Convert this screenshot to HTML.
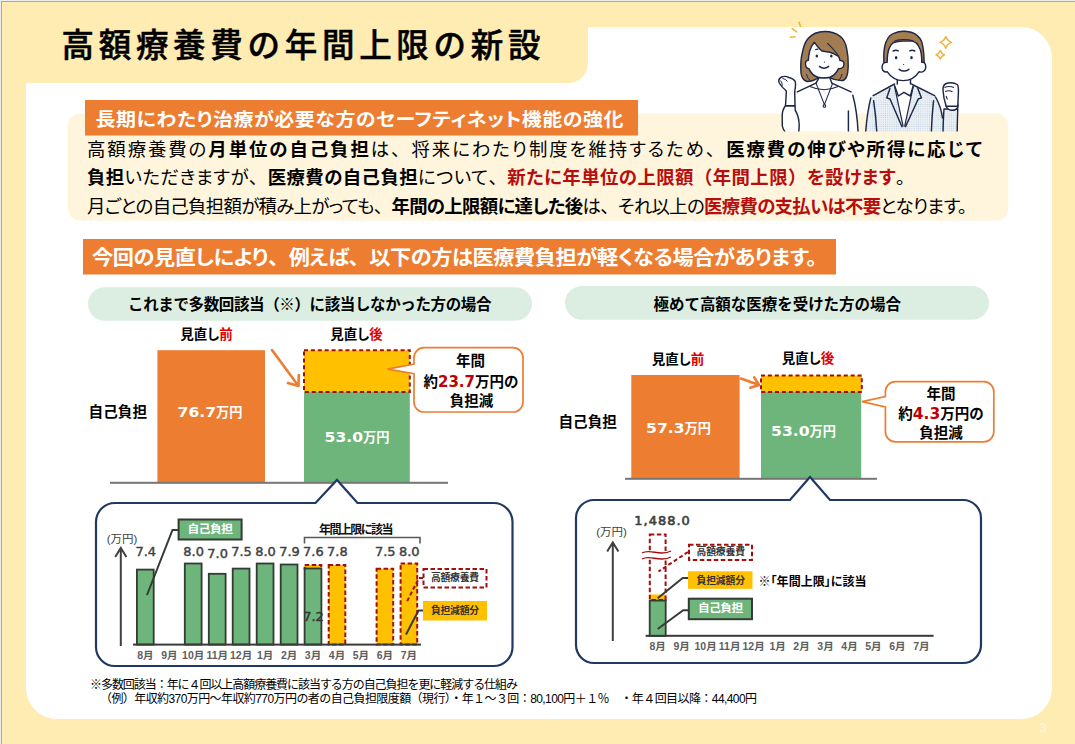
<!DOCTYPE html>
<html lang="ja"><head><meta charset="utf-8"><title>高額療養費の年間上限の新設</title>
<style>
*{margin:0;padding:0;box-sizing:border-box}
html,body{width:1075px;height:744px;overflow:hidden;background:#FFECB3}
svg{position:absolute;left:0;top:0;display:block}
.p{font-feature-settings:"palt"}
.n{font-feature-settings:normal}
</style></head><body>
<svg width="1075" height="744" viewBox="0 0 1075 744">
<rect x="0" y="0" width="1075" height="744" fill="#FFECB3"/>
<rect x="0" y="0" width="1075" height="1" fill="#EDEDED"/><rect x="0" y="1" width="1075" height="1" fill="#A9A9A9"/>
<rect x="0" y="0" width="1" height="744" fill="#EDEDED"/><rect x="1" y="1" width="1" height="743" fill="#A9A9A9"/>
<rect x="26" y="27" width="1026" height="692" rx="31" fill="#FFFFFF"/>
<path d="M2 2 H588 V63 A20 20 0 0 1 568 83 H2 Z" fill="#FFECB3"/>
<text x="61.5" y="57" font-size="32.5" font-weight="500" fill="#000" text-anchor="start" font-family="'Liberation Sans','Noto Sans CJK JP',sans-serif" textLength="479" lengthAdjust="spacing" stroke="#000" stroke-width="0.5">高額療養費の年間上限の新設</text>
<rect x="67.8" y="113.5" width="940.5" height="107" rx="12" fill="#FFF5DC"/>
<rect x="85" y="100" width="553" height="35.5" fill="#ED7D31"/>
<text transform="translate(95.5 125.7) scale(1.08 1)" x="0" y="0" font-size="18.5" font-weight="700" fill="#fff" text-anchor="start" font-family="'Liberation Sans','Noto Sans CJK JP',sans-serif" textLength="488.89" lengthAdjust="spacing" class="p">長期にわたり治療が必要な方のセーフティネット機能の強化</text>
<text x="87" y="156.3" font-size="18.4" font-weight="400" fill="#000" text-anchor="start" font-family="'Liberation Sans','Noto Sans CJK JP',sans-serif" textLength="895" lengthAdjust="spacing" class="p">高額療養費の<tspan font-weight="700">月単位の自己負担</tspan>は<tspan class="n">、</tspan>将来にわたり制度を維持するため<tspan class="n">、</tspan><tspan font-weight="700">医療費の伸びや所得に応じて</tspan></text>
<text x="87" y="184.2" font-size="18.4" font-weight="400" fill="#000" text-anchor="start" font-family="'Liberation Sans','Noto Sans CJK JP',sans-serif" textLength="818" lengthAdjust="spacing" class="p"><tspan font-weight="700">負担</tspan>いただきますが<tspan class="n">、</tspan><tspan font-weight="700">医療費の自己負担</tspan>について<tspan class="n">、</tspan><tspan fill="#B80D0D" font-weight="700">新たに年単位の上限額<tspan class="n">（</tspan>年間上限<tspan class="n">）</tspan>を設けます</tspan>。</text>
<text x="87" y="212.9" font-size="18.4" font-weight="400" fill="#000" text-anchor="start" font-family="'Liberation Sans','Noto Sans CJK JP',sans-serif" textLength="880" lengthAdjust="spacing" class="p">月ごとの自己負担額が積み上がっても<tspan class="n">、</tspan><tspan font-weight="700">年間の上限額に達した後</tspan>は<tspan class="n">、</tspan>それ以上の<tspan fill="#B80D0D" font-weight="700">医療費の支払いは不要</tspan>となります。</text>
<rect x="83" y="239" width="753" height="35.5" fill="#ED7D31"/>
<text transform="translate(92 265) scale(1.06 1)" x="0" y="0" font-size="20" font-weight="700" fill="#fff" text-anchor="start" font-family="'Liberation Sans','Noto Sans CJK JP',sans-serif" textLength="683.96" lengthAdjust="spacing" class="p">今回の見直しにより<tspan class="n">、</tspan>例えば<tspan class="n">、</tspan>以下の方は医療費負担が軽くなる場合があります。</text>
<rect x="88" y="287.2" width="444" height="33.6" rx="16.8" fill="#DCEEE2"/>
<rect x="565" y="286.1" width="424" height="33.6" rx="16.8" fill="#DCEEE2"/>
<text x="128" y="309.5" font-size="15.5" font-weight="700" fill="#000" text-anchor="start" font-family="'Liberation Sans','Noto Sans CJK JP',sans-serif" textLength="363.5" lengthAdjust="spacing" >これまで多数回該当（※）に該当しなかった方の場合</text>
<text x="653.5" y="309.5" font-size="15.5" font-weight="700" fill="#000" text-anchor="start" font-family="'Liberation Sans','Noto Sans CJK JP',sans-serif" textLength="247.5" lengthAdjust="spacing" >極めて高額な医療を受けた方の場合</text>
<text x="206.5" y="339" font-size="13.5" font-weight="700" fill="#000" text-anchor="middle" font-family="'Liberation Sans','Noto Sans CJK JP',sans-serif" class="p">見直し<tspan fill="#E00000">前</tspan></text>
<text x="356.5" y="339" font-size="13.5" font-weight="700" fill="#000" text-anchor="middle" font-family="'Liberation Sans','Noto Sans CJK JP',sans-serif" class="p">見直し<tspan fill="#E00000">後</tspan></text>
<text x="117.8" y="417.2" font-size="14.6" font-weight="700" fill="#000" text-anchor="middle" font-family="'Liberation Sans','Noto Sans CJK JP',sans-serif" >自己負担</text>
<rect x="157.4" y="350.2" width="107.6" height="132.3" fill="#ED7D31"/>
<rect x="304" y="392" width="105.8" height="90.5" fill="#6DB57B"/>
<rect x="304" y="350.3" width="105.8" height="41.7" fill="#FFC000" stroke="#A30F0F" stroke-width="2" stroke-dasharray="4 2.9"/>
<rect x="110" y="481.8" width="338" height="2" fill="#767676"/>
<text x="210" y="417" font-size="14.8" font-weight="700" fill="#fff" text-anchor="middle" font-family="'Liberation Sans','Noto Sans CJK JP',sans-serif" ><tspan font-family="DejaVu Sans" textLength="38.5" lengthAdjust="spacingAndGlyphs">76.7</tspan><tspan font-size="13.2">万円</tspan></text>
<text x="357" y="441.8" font-size="14.8" font-weight="700" fill="#fff" text-anchor="middle" font-family="'Liberation Sans','Noto Sans CJK JP',sans-serif" ><tspan font-family="DejaVu Sans" textLength="38.5" lengthAdjust="spacingAndGlyphs">53.0</tspan><tspan font-size="13.2">万円</tspan></text>
<path d="M272.0 350.0 L298.5 386.0 M298.8 375.0 L298.5 386.0 L287.9 383.0" stroke="#ED7D31" stroke-width="2.6" fill="none" stroke-linecap="round" stroke-linejoin="round"/>
<path d="M424 347.6 H513 A10 10 0 0 1 523 357.6 V402 A10 10 0 0 1 513 412 H424 A10 10 0 0 1 414 402 V373.6 L387.6 369.1 L414 364 V357.6 A10 10 0 0 1 424 347.6 Z" fill="#fff" stroke="#ED7D31" stroke-width="1.7"/>
<text x="470.5" y="366" font-size="14.5" font-weight="700" fill="#000" text-anchor="middle" font-family="'Liberation Sans','Noto Sans CJK JP',sans-serif" >年間</text>
<text x="471" y="387.2" font-size="14.5" font-weight="700" fill="#000" text-anchor="middle" font-family="'Liberation Sans','Noto Sans CJK JP',sans-serif" >約<tspan font-family="DejaVu Sans" font-size="15" fill="#C00000">23.7</tspan>万円の</text>
<text x="471.5" y="405.5" font-size="14.5" font-weight="700" fill="#000" text-anchor="middle" font-family="'Liberation Sans','Noto Sans CJK JP',sans-serif" >負担減</text>
<text x="678" y="364.3" font-size="13.5" font-weight="700" fill="#000" text-anchor="middle" font-family="'Liberation Sans','Noto Sans CJK JP',sans-serif" class="p">見直し<tspan fill="#E00000">前</tspan></text>
<text x="808" y="363" font-size="13.5" font-weight="700" fill="#000" text-anchor="middle" font-family="'Liberation Sans','Noto Sans CJK JP',sans-serif" class="p">見直し<tspan fill="#E00000">後</tspan></text>
<text x="587.7" y="426.9" font-size="14.6" font-weight="700" fill="#000" text-anchor="middle" font-family="'Liberation Sans','Noto Sans CJK JP',sans-serif" >自己負担</text>
<rect x="631.3" y="375" width="108.3" height="103.6" fill="#ED7D31"/>
<rect x="761" y="392" width="100.2" height="86.6" fill="#6DB57B"/>
<rect x="761" y="375.5" width="100.8" height="16.5" fill="#FFC000" stroke="#A30F0F" stroke-width="2" stroke-dasharray="4 2.9"/>
<rect x="625" y="477.8" width="252" height="2" fill="#767676"/>
<text x="678.5" y="433" font-size="14.8" font-weight="700" fill="#fff" text-anchor="middle" font-family="'Liberation Sans','Noto Sans CJK JP',sans-serif" ><tspan font-family="DejaVu Sans" textLength="38.5" lengthAdjust="spacingAndGlyphs">57.3</tspan><tspan font-size="13.2">万円</tspan></text>
<text x="803.5" y="435.5" font-size="14.8" font-weight="700" fill="#fff" text-anchor="middle" font-family="'Liberation Sans','Noto Sans CJK JP',sans-serif" ><tspan font-family="DejaVu Sans" textLength="38.5" lengthAdjust="spacingAndGlyphs">53.0</tspan><tspan font-size="13.2">万円</tspan></text>
<path d="M741.0 378.5 L759.0 385.0 M754.2 377.4 L759.0 385.0 L750.4 387.8" stroke="#ED7D31" stroke-width="2.6" fill="none" stroke-linecap="round" stroke-linejoin="round"/>
<path d="M895.4 381.6 H983.8 A10 10 0 0 1 993.8 391.6 V431.8 A10 10 0 0 1 983.8 441.8 H895.4 A10 10 0 0 1 885.4 431.8 V407 L862 401.7 L885.4 396.5 V391.6 A10 10 0 0 1 895.4 381.6 Z" fill="#fff" stroke="#ED7D31" stroke-width="1.7"/>
<text x="941" y="399" font-size="14.5" font-weight="700" fill="#000" text-anchor="middle" font-family="'Liberation Sans','Noto Sans CJK JP',sans-serif" >年間</text>
<text x="941" y="419.3" font-size="14.5" font-weight="700" fill="#000" text-anchor="middle" font-family="'Liberation Sans','Noto Sans CJK JP',sans-serif" >約<tspan font-family="DejaVu Sans" font-size="15.5" fill="#C00000">4.3</tspan>万円の</text>
<text x="941" y="437.5" font-size="14.5" font-weight="700" fill="#000" text-anchor="middle" font-family="'Liberation Sans','Noto Sans CJK JP',sans-serif" >負担減</text>
<path d="M115 503 H315.5 L337 480 L357.5 503 H493.5 A19 19 0 0 1 512.5 522 V647 A19 19 0 0 1 493.5 666 H115 A19 19 0 0 1 96 647 V522 A19 19 0 0 1 115 503 Z" fill="#fff" stroke="#1F3864" stroke-width="2.2" stroke-linejoin="miter"/>
<path d="M594 500 H790 L810 477 L830 500 H963 A18 18 0 0 1 981 518 V645 A18 18 0 0 1 963 663 H594 A18 18 0 0 1 576 645 V518 A18 18 0 0 1 594 500 Z" fill="#fff" stroke="#1F3864" stroke-width="2.2" stroke-linejoin="miter"/>
<path d="M120.8 646 V548 M115.2 557 L120.8 548 L126.39999999999999 557" stroke="#404040" stroke-width="2" fill="none" stroke-linejoin="miter"/>
<text x="122" y="542.6" font-size="11.5" font-weight="400" fill="#404040" text-anchor="middle" font-family="'Liberation Sans','Noto Sans CJK JP',sans-serif" class="p">(万円)</text>
<rect x="136.9" y="569.6" width="16.8" height="75.0" fill="#6DB57B" stroke="#333B35" stroke-width="1.8"/>
<rect x="184.8" y="563.5" width="16.8" height="81.1" fill="#6DB57B" stroke="#333B35" stroke-width="1.8"/>
<rect x="208.8" y="573.8" width="16.8" height="70.8" fill="#6DB57B" stroke="#333B35" stroke-width="1.8"/>
<rect x="232.7" y="568.6" width="16.8" height="76.0" fill="#6DB57B" stroke="#333B35" stroke-width="1.8"/>
<rect x="256.7" y="563.5" width="16.8" height="81.1" fill="#6DB57B" stroke="#333B35" stroke-width="1.8"/>
<rect x="280.7" y="564.5" width="16.8" height="80.1" fill="#6DB57B" stroke="#333B35" stroke-width="1.8"/>
<rect x="376.6" y="568.7" width="16.6" height="75.9" fill="#FFC000" stroke="#A30F0F" stroke-width="2" stroke-dasharray="4.5 2.5"/>
<rect x="400.6" y="563.6" width="16.6" height="81.0" fill="#FFC000" stroke="#A30F0F" stroke-width="2" stroke-dasharray="4.5 2.5"/>
<rect x="304.7" y="565" width="16.6" height="4" fill="#FFC000" stroke="#A30F0F" stroke-width="2" stroke-dasharray="4.5 2.5"/>
<rect x="304.6" y="568.5" width="16.8" height="76.1" fill="#6DB57B" stroke="#333B35" stroke-width="1.8"/>
<rect x="328.7" y="565" width="16.6" height="79.6" fill="#FFC000" stroke="#A30F0F" stroke-width="2" stroke-dasharray="4.5 2.5"/>
<rect x="133" y="643.6" width="288" height="2" fill="#3A3A3A"/>
<text x="145.7" y="555.6" font-size="12.1" font-weight="400" fill="#404040" text-anchor="middle" font-family="'DejaVu Sans','Noto Sans CJK JP',sans-serif" textLength="20.6" lengthAdjust="spacingAndGlyphs" stroke="#404040" stroke-width="0.4">7.4</text>
<text x="193.6" y="555.5" font-size="12.1" font-weight="400" fill="#404040" text-anchor="middle" font-family="'DejaVu Sans','Noto Sans CJK JP',sans-serif" textLength="20.6" lengthAdjust="spacingAndGlyphs" stroke="#404040" stroke-width="0.4">8.0</text>
<text x="217.6" y="558.2" font-size="12.1" font-weight="400" fill="#404040" text-anchor="middle" font-family="'DejaVu Sans','Noto Sans CJK JP',sans-serif" textLength="20.6" lengthAdjust="spacingAndGlyphs" stroke="#404040" stroke-width="0.4">7.0</text>
<text x="241.5" y="555.5" font-size="12.1" font-weight="400" fill="#404040" text-anchor="middle" font-family="'DejaVu Sans','Noto Sans CJK JP',sans-serif" textLength="20.6" lengthAdjust="spacingAndGlyphs" stroke="#404040" stroke-width="0.4">7.5</text>
<text x="265.5" y="555.5" font-size="12.1" font-weight="400" fill="#404040" text-anchor="middle" font-family="'DejaVu Sans','Noto Sans CJK JP',sans-serif" textLength="20.6" lengthAdjust="spacingAndGlyphs" stroke="#404040" stroke-width="0.4">8.0</text>
<text x="289.5" y="555.5" font-size="12.1" font-weight="400" fill="#404040" text-anchor="middle" font-family="'DejaVu Sans','Noto Sans CJK JP',sans-serif" textLength="20.6" lengthAdjust="spacingAndGlyphs" stroke="#404040" stroke-width="0.4">7.9</text>
<text x="313.4" y="555.6" font-size="12.1" font-weight="400" fill="#404040" text-anchor="middle" font-family="'DejaVu Sans','Noto Sans CJK JP',sans-serif" textLength="20.6" lengthAdjust="spacingAndGlyphs" stroke="#404040" stroke-width="0.4">7.6</text>
<text x="337.4" y="555.6" font-size="12.1" font-weight="400" fill="#404040" text-anchor="middle" font-family="'DejaVu Sans','Noto Sans CJK JP',sans-serif" textLength="20.6" lengthAdjust="spacingAndGlyphs" stroke="#404040" stroke-width="0.4">7.8</text>
<text x="385.3" y="555.6" font-size="12.1" font-weight="400" fill="#404040" text-anchor="middle" font-family="'DejaVu Sans','Noto Sans CJK JP',sans-serif" textLength="20.6" lengthAdjust="spacingAndGlyphs" stroke="#404040" stroke-width="0.4">7.5</text>
<text x="409.3" y="555.6" font-size="12.1" font-weight="400" fill="#404040" text-anchor="middle" font-family="'DejaVu Sans','Noto Sans CJK JP',sans-serif" textLength="20.6" lengthAdjust="spacingAndGlyphs" stroke="#404040" stroke-width="0.4">8.0</text>
<text x="313.5" y="620.5" font-size="12.1" font-weight="400" fill="#333" text-anchor="middle" font-family="'DejaVu Sans','Noto Sans CJK JP',sans-serif" textLength="20.6" lengthAdjust="spacingAndGlyphs" stroke="#333" stroke-width="0.4">7.2</text>
<text x="145.3" y="659.2" font-size="10.5" font-weight="700" fill="#5E5E5E" text-anchor="middle" font-family="'Liberation Sans','Noto Sans CJK JP',sans-serif" class="p">8月</text>
<text x="169.3" y="659.2" font-size="10.5" font-weight="700" fill="#5E5E5E" text-anchor="middle" font-family="'Liberation Sans','Noto Sans CJK JP',sans-serif" class="p">9月</text>
<text x="193.2" y="659.2" font-size="10.5" font-weight="700" fill="#5E5E5E" text-anchor="middle" font-family="'Liberation Sans','Noto Sans CJK JP',sans-serif" class="p">10月</text>
<text x="217.2" y="659.2" font-size="10.5" font-weight="700" fill="#5E5E5E" text-anchor="middle" font-family="'Liberation Sans','Noto Sans CJK JP',sans-serif" class="p">11月</text>
<text x="241.1" y="659.2" font-size="10.5" font-weight="700" fill="#5E5E5E" text-anchor="middle" font-family="'Liberation Sans','Noto Sans CJK JP',sans-serif" class="p">12月</text>
<text x="265.1" y="659.2" font-size="10.5" font-weight="700" fill="#5E5E5E" text-anchor="middle" font-family="'Liberation Sans','Noto Sans CJK JP',sans-serif" class="p">1月</text>
<text x="289.1" y="659.2" font-size="10.5" font-weight="700" fill="#5E5E5E" text-anchor="middle" font-family="'Liberation Sans','Noto Sans CJK JP',sans-serif" class="p">2月</text>
<text x="313.0" y="659.2" font-size="10.5" font-weight="700" fill="#5E5E5E" text-anchor="middle" font-family="'Liberation Sans','Noto Sans CJK JP',sans-serif" class="p">3月</text>
<text x="337.0" y="659.2" font-size="10.5" font-weight="700" fill="#5E5E5E" text-anchor="middle" font-family="'Liberation Sans','Noto Sans CJK JP',sans-serif" class="p">4月</text>
<text x="360.9" y="659.2" font-size="10.5" font-weight="700" fill="#5E5E5E" text-anchor="middle" font-family="'Liberation Sans','Noto Sans CJK JP',sans-serif" class="p">5月</text>
<text x="384.9" y="659.2" font-size="10.5" font-weight="700" fill="#5E5E5E" text-anchor="middle" font-family="'Liberation Sans','Noto Sans CJK JP',sans-serif" class="p">6月</text>
<text x="408.9" y="659.2" font-size="10.5" font-weight="700" fill="#5E5E5E" text-anchor="middle" font-family="'Liberation Sans','Noto Sans CJK JP',sans-serif" class="p">7月</text>
<rect x="178.6" y="519.5" width="63" height="20" fill="#6DB57B" stroke="#333B35" stroke-width="2"/>
<text x="210.2" y="533.2" font-size="11.7" font-weight="700" fill="#fff" text-anchor="middle" font-family="'Liberation Sans','Noto Sans CJK JP',sans-serif" textLength="45.5" lengthAdjust="spacing" >自己負担</text>
<path d="M178 530 H172.5 L147 595" stroke="#333B35" stroke-width="2" fill="none"/>
<path d="M304.5 543.5 V537.5 H420 V543.5" stroke="#595959" stroke-width="1.6" fill="none"/>
<text x="319" y="533.6" font-size="12" font-weight="700" fill="#111" text-anchor="start" font-family="'Liberation Sans','Noto Sans CJK JP',sans-serif" textLength="74.5" lengthAdjust="spacing" >年間上限に該当</text>
<rect x="423.5" y="569" width="63" height="18.5" fill="#fff" stroke="#A30F0F" stroke-width="2" stroke-dasharray="4.5 2.5"/>
<text x="455" y="581.3" font-size="9.8" font-weight="700" fill="#333" text-anchor="middle" font-family="'Liberation Sans','Noto Sans CJK JP',sans-serif" textLength="48" lengthAdjust="spacing" >高額療養費</text>
<rect x="423" y="601" width="64" height="19.5" fill="#FFC000"/>
<text x="455" y="614.2" font-size="9.8" font-weight="700" fill="#333" text-anchor="middle" font-family="'Liberation Sans','Noto Sans CJK JP',sans-serif" textLength="48" lengthAdjust="spacing" >負担減額分</text>
<path d="M423 578 H419 L407 601.5" stroke="#A30F0F" stroke-width="2" fill="none" stroke-dasharray="4 2.5"/>
<path d="M423 610.5 H418.5 L406 634.5" stroke="#3A3A3A" stroke-width="2" fill="none"/>
<path d="M612.8 641 V542.5 M607.1999999999999 551.5 L612.8 542.5 L618.4 551.5" stroke="#404040" stroke-width="2" fill="none" stroke-linejoin="miter"/>
<text x="611.6" y="535.8" font-size="11.5" font-weight="400" fill="#404040" text-anchor="middle" font-family="'Liberation Sans','Noto Sans CJK JP',sans-serif" class="p">(万円)</text>
<text x="634.3" y="525.2" font-size="12.9" font-weight="400" fill="#404040" text-anchor="start" font-family="'DejaVu Sans','Noto Sans CJK JP',sans-serif" textLength="55.5" lengthAdjust="spacing" stroke="#404040" stroke-width="0.65">1,488.0</text>
<rect x="649.8" y="594.5" width="15.8" height="5.5" fill="#FFC000"/>
<rect x="649.8" y="534.4" width="15.8" height="65.6" fill="none" stroke="#A30F0F" stroke-width="2" stroke-dasharray="4.5 2.5"/>
<rect x="649.6999999999999" y="600.6" width="16.0" height="35.4" fill="#6DB57B" stroke="#333B35" stroke-width="1.8"/>
<path d="M642 553 C650 548 660 557 671 551 V557 C660 563 650 554 642 559 Z" fill="#fff"/>
<path d="M642 553 C650 548 660 557 671 551 M642 559 C650 554 660 563 671 557" stroke="#A30F0F" stroke-width="1.4" fill="none"/>
<rect x="645.6" y="634.8" width="288" height="2" fill="#3A3A3A"/>
<text x="657.7" y="649.8" font-size="10.5" font-weight="700" fill="#5E5E5E" text-anchor="middle" font-family="'Liberation Sans','Noto Sans CJK JP',sans-serif" class="p">8月</text>
<text x="681.7" y="649.8" font-size="10.5" font-weight="700" fill="#5E5E5E" text-anchor="middle" font-family="'Liberation Sans','Noto Sans CJK JP',sans-serif" class="p">9月</text>
<text x="705.6" y="649.8" font-size="10.5" font-weight="700" fill="#5E5E5E" text-anchor="middle" font-family="'Liberation Sans','Noto Sans CJK JP',sans-serif" class="p">10月</text>
<text x="729.6" y="649.8" font-size="10.5" font-weight="700" fill="#5E5E5E" text-anchor="middle" font-family="'Liberation Sans','Noto Sans CJK JP',sans-serif" class="p">11月</text>
<text x="753.6" y="649.8" font-size="10.5" font-weight="700" fill="#5E5E5E" text-anchor="middle" font-family="'Liberation Sans','Noto Sans CJK JP',sans-serif" class="p">12月</text>
<text x="777.6" y="649.8" font-size="10.5" font-weight="700" fill="#5E5E5E" text-anchor="middle" font-family="'Liberation Sans','Noto Sans CJK JP',sans-serif" class="p">1月</text>
<text x="801.5" y="649.8" font-size="10.5" font-weight="700" fill="#5E5E5E" text-anchor="middle" font-family="'Liberation Sans','Noto Sans CJK JP',sans-serif" class="p">2月</text>
<text x="825.5" y="649.8" font-size="10.5" font-weight="700" fill="#5E5E5E" text-anchor="middle" font-family="'Liberation Sans','Noto Sans CJK JP',sans-serif" class="p">3月</text>
<text x="849.5" y="649.8" font-size="10.5" font-weight="700" fill="#5E5E5E" text-anchor="middle" font-family="'Liberation Sans','Noto Sans CJK JP',sans-serif" class="p">4月</text>
<text x="873.4" y="649.8" font-size="10.5" font-weight="700" fill="#5E5E5E" text-anchor="middle" font-family="'Liberation Sans','Noto Sans CJK JP',sans-serif" class="p">5月</text>
<text x="897.4" y="649.8" font-size="10.5" font-weight="700" fill="#5E5E5E" text-anchor="middle" font-family="'Liberation Sans','Noto Sans CJK JP',sans-serif" class="p">6月</text>
<text x="921.4" y="649.8" font-size="10.5" font-weight="700" fill="#5E5E5E" text-anchor="middle" font-family="'Liberation Sans','Noto Sans CJK JP',sans-serif" class="p">7月</text>
<rect x="689" y="544.7" width="63" height="15.3" fill="#fff" stroke="#A30F0F" stroke-width="2" stroke-dasharray="4.5 2.5"/>
<text x="720.7" y="555.3" font-size="9.8" font-weight="700" fill="#333" text-anchor="middle" font-family="'Liberation Sans','Noto Sans CJK JP',sans-serif" textLength="48.5" lengthAdjust="spacing" >高額療養費</text>
<rect x="688" y="571.3" width="64.5" height="17.5" fill="#FFC000"/>
<text x="720.7" y="584.2" font-size="9.8" font-weight="700" fill="#333" text-anchor="middle" font-family="'Liberation Sans','Noto Sans CJK JP',sans-serif" textLength="48.5" lengthAdjust="spacing" >負担減額分</text>
<rect x="688.8" y="598.7" width="63.2" height="20.5" fill="#6DB57B" stroke="#333B35" stroke-width="2"/>
<text x="720.6" y="612.3" font-size="11.7" font-weight="700" fill="#fff" text-anchor="middle" font-family="'Liberation Sans','Noto Sans CJK JP',sans-serif" textLength="45" lengthAdjust="spacing" >自己負担</text>
<text x="758.5" y="586.3" font-size="12" font-weight="700" fill="#000" text-anchor="start" font-family="'Liberation Sans','Noto Sans CJK JP',sans-serif" textLength="108" lengthAdjust="spacing" class="p"><tspan font-weight="400">※</tspan>「年間上限」に該当</text>
<path d="M688 552 L658.5 571.5" stroke="#A30F0F" stroke-width="2" fill="none" stroke-dasharray="4 2.5"/>
<path d="M688 578 H682.7 L657.7 598.2" stroke="#3A3A3A" stroke-width="2" fill="none"/>
<path d="M688 610.3 H683.2 L657.7 629" stroke="#3A3A3A" stroke-width="2" fill="none"/>
<clipPath id="ic"><rect x="770" y="15" width="200" height="116.6"/></clipPath>
<defs><pattern id="dots" width="2.2" height="2.2" patternUnits="userSpaceOnUse"><rect width="2.2" height="2.2" fill="#EAF0F5"/><circle cx="1.1" cy="1.1" r="0.5" fill="#BCCCDA"/></pattern></defs>
<g clip-path="url(#ic)">
<path d="M797.3 91.9 L816 83.1 L831.8 83.1 L851 91.9 C853 93 853 94 852.8 95.3 C855.5 105 857.5 118 858.2 134 L797 134 Z" fill="#fff"/>
<path d="M797.3 91.9 L816 83.1 M831.8 83.1 L851 91.9 M852.8 95.3 C855.5 105 857.5 118 858.2 134 M848.4 111 L848.4 134" fill="none" stroke="#1E2746" stroke-width="1.45" stroke-linejoin="round" stroke-linecap="round"/>
<path d="M818.7 76 L816 83.1 Q824 86 831.8 83.1 L830 76 Z" fill="#fff"/>
<path d="M818.7 78.3 L816 83.1 M830 78.3 L831.8 83.1" fill="none" stroke="#1E2746" stroke-width="1.45" stroke-linejoin="round" stroke-linecap="round"/>
<path d="M810 86.6 Q824 93 838 86.6" fill="none" stroke="#1E2746" stroke-width="1.1"/>
<path d="M816 83.1 L824.4 104.6 L832.7 83.1" fill="none" stroke="#1E2746" stroke-width="1.1"/>
<circle cx="824.4" cy="105.9" r="1.3" fill="#fff" stroke="#1E2746" stroke-width="1.1"/>
<path d="M807.1 81.5 C803.5 80.5 801.5 78 801 73 C800.5 66 801 58 802.3 53 C803.5 46 805.5 41.5 807.9 38.7 C812 34 818 31.5 824.8 31.5 C831 31.5 836.5 33.5 840.2 36.3 C844 39.5 846 44 846.8 49.2 C848 55 848.4 61 848.2 66 C848 71 847.5 75 846.6 76.6 C845.5 79 843.5 80.6 841.8 80.6 C836.5 80.4 831 78.5 828.9 77.4 L819.2 77.4 C816 79.5 811.5 81.5 807.1 81.5 Z" fill="#A37C52" stroke="#1E2746" stroke-width="1.45" stroke-linejoin="round" stroke-linecap="round"/>
<path d="M814.4 42.3 C812 45 810.5 48 809.5 51.6 C808.8 54.5 808.5 57.5 808.4 60.3 C806.8 60.2 805.5 61.3 805.5 63.5 C805.5 66.5 806.6 68.6 808.9 68.6 C810.6 72.6 814 76 818 77.2 C821 78 826.5 78 829.8 77.2 C833.7 76 836.6 72.6 838.5 68.6 C841.2 68.8 843.6 67.3 844 64.5 C844.2 62 842.8 60.4 840 60.6 C839.8 59.5 839.3 57.5 838.5 56.5 C835 54 832 52.5 828.9 52 C826 51.6 823.5 51.5 821.6 50.8 C819 48.5 816.5 45.3 814.4 42.3 Z" fill="#fff" stroke="#1E2746" stroke-width="1.45" stroke-linejoin="round" stroke-linecap="round"/>
<path d="M827.3 43.1 C831 47 835.5 51 838.5 56" fill="none" stroke="#1E2746" stroke-width="1.1"/>
<path d="M815.2 49.6 L818.3 49.1" fill="none" stroke="#1E2746" stroke-width="1.1"/>
<path d="M806.5 74 C807 77 808.5 79.5 810.5 80.5 M842 74 C841.5 77 840 79.5 838 80.5" fill="none" stroke="#1E2746" stroke-width="1"/>
<ellipse cx="816.8" cy="56" rx="1.25" ry="1.5" fill="#1E2746"/><ellipse cx="831.3" cy="56" rx="1.25" ry="1.5" fill="#1E2746"/>
<circle cx="824.4" cy="62.1" r="0.6" fill="#1E2746"/><path d="M819.4 66.4 Q824 70.2 828.7 66.4" fill="none" stroke="#1E2746" stroke-width="1.45" stroke-linejoin="round" stroke-linecap="round"/>
<path d="M785.5 105.8 C783 109 782.2 112 782.2 116 L782.3 126 C782.8 129 784.5 131 786.4 134 L798.6 134 C799.2 128 799.3 124 799 122.4 C798.5 117 797 113 795.3 110.5 L795 105.8 Z" fill="#fff" stroke="#1E2746" stroke-width="1.45" stroke-linejoin="round" stroke-linecap="round"/>
<path d="M786.4 91 C784 89 781 86 779.3 83 C778.3 81 779 78.5 781.6 77 C784 76 787 76.5 789 77.5 C791 78 793.5 79 795 81 C796 83.5 795.6 87 794.7 91" fill="#fff" stroke="#1E2746" stroke-width="1.45" stroke-linejoin="round" stroke-linecap="round"/>
<path d="M786.4 90 L785.5 105.8 L795 105.8 L794.7 90 Z" fill="#fff"/>
<path d="M786.4 91 L785.5 105.8 L795 105.8 L794.7 91" fill="none" stroke="#1E2746" stroke-width="1.45" stroke-linejoin="round" stroke-linecap="round"/>
<path d="M780.5 80.5 C782 82.5 782.5 84 782 86 M782.5 78.5 Q786 79 787.5 81.5" fill="none" stroke="#1E2746" stroke-width="1"/>
<path d="M790.3 37.2 L795 36.8 M792.2 28.6 L796.6 31.8 M799 22.2 L800.5 26.3" stroke="#F0B43A" stroke-width="1.6" stroke-linecap="round" fill="none"/>
<path d="M873.2 95.6 L894.6 84 L911.3 84 L934.6 95.6 C936.5 97 937 98 937.5 99 C940 104 942 111 943 120 L944 134 L865 134 C866.5 120 868.5 107 870.8 97.9 C871.5 96.6 872.3 96 873.2 95.6 Z" fill="url(#dots)"/>
<path d="M873.2 95.6 L894.6 84 M911.3 84 L934.6 95.6 M870.8 97.9 C868.5 107 866.5 120 865.5 134 M873.6 100.7 C875 110 876.2 120 876.9 134 M935.5 97 C939 103 941.5 110 942.5 118 M933.6 100.7 C932.5 110 931.8 120 931.3 134" fill="none" stroke="#1E2746" stroke-width="1.45" stroke-linejoin="round" stroke-linecap="round"/>
<path d="M897.3 78 L897.3 84 L894.6 86 L903.9 127.7 L913.2 86 L910.5 84 L910.5 78 Z" fill="#fff"/>
<path d="M897.3 79 L897.3 84 M910.5 79 L910.5 84" fill="none" stroke="#1E2746" stroke-width="1.45" stroke-linejoin="round" stroke-linecap="round"/>
<path d="M894.6 85.8 L898.3 96 L903.9 92.3 L910.4 96 L913.2 85.8" fill="none" stroke="#1E2746" stroke-width="1.45" stroke-linejoin="round" stroke-linecap="round"/>
<path d="M894.6 86.7 L903.2 126.7 M913.2 86.7 L904.6 126.7" fill="none" stroke="#1E2746" stroke-width="1.2"/>
<path d="M889.9 88.6 L886.7 97.9 L890 99 L902 126.7 M917.8 88.6 L921.5 97.9 L918.2 99 L905.5 126.7" fill="none" stroke="#1E2746" stroke-width="1.45" stroke-linejoin="round" stroke-linecap="round"/>
<path d="M883.9 63 C883.5 55 884 47 886 42 C888 37 891 34 894.4 33.1 C898 31.5 903 31 907.3 31.5 C913 32 917.5 35 920.2 38.7 C923 43 924 52 924.2 63 Z" fill="#A37C52" stroke="#1E2746" stroke-width="1.45" stroke-linejoin="round" stroke-linecap="round"/>
<path d="M887.1 62.1 C887.3 55 888 50.5 889.5 47.6 C890.5 45.3 892 43.6 893.5 42.7 C897 41.3 900 41.1 903.2 41.1 L912.9 41.1 C915.5 42 917.5 44 918.5 46 C920 48.5 921 51 921.3 54 C921.7 57 921.8 60 921.8 62.4 C923 62.2 924.6 62.6 925.2 64 C926.1 66.5 925.6 69.5 924 71 C922.6 72.2 920.6 72.3 919 71.8 C916 76.5 911 80.6 903.2 80.6 C896 80.6 890.5 76.5 887.3 71.8 C885.6 72.2 883.6 71.6 882.6 70 C881.7 68 882 64.5 883.6 63.2 C884.6 62.4 886 62.3 887.1 62.4 Z" fill="#fff" stroke="#1E2746" stroke-width="1.45" stroke-linejoin="round" stroke-linecap="round"/>
<path d="M893.8 41.6 C898 39.2 907 39 913.5 41" fill="none" stroke="#1E2746" stroke-width="1.2"/>
<path d="M893.1 51 Q895.8 49.6 898.4 50.8 M909.7 50.8 Q912.3 49.6 914.8 51" fill="none" stroke="#1E2746" stroke-width="1.45" stroke-linejoin="round" stroke-linecap="round"/>
<ellipse cx="896.1" cy="57.7" rx="1.25" ry="1.6" fill="#1E2746"/><ellipse cx="911.5" cy="57.7" rx="1.25" ry="1.6" fill="#1E2746"/>
<circle cx="903.6" cy="64.5" r="0.6" fill="#1E2746"/><path d="M899.2 69.3 Q904 72.9 908.9 69.3" fill="none" stroke="#1E2746" stroke-width="1.45" stroke-linejoin="round" stroke-linecap="round"/>
<path d="M944 109 C943.5 115 943.2 122 943 134 L957.2 134 C957.2 124 957.6 115 957.8 109 Z" fill="url(#dots)" stroke="#1E2746" stroke-width="1.45" stroke-linejoin="round" stroke-linecap="round"/>
<path d="M946.2 106.3 C947 108.5 949 110 951.5 110.3 C954 110.5 956.5 109.5 957.8 107.5 L957.8 104 L946.2 104 Z" fill="#fff" stroke="#1E2746" stroke-width="1.45" stroke-linejoin="round" stroke-linecap="round"/>
<path d="M946.2 106.3 C944.5 101 943.2 95 943 90 C942.8 86 944.5 83.5 948 83 C951.5 82.5 955 83 957.2 84.5 C958.8 86 958.6 90 958.3 95 C958.1 99 957.9 103 957.8 106.3 Z" fill="#fff" stroke="#1E2746" stroke-width="1.45" stroke-linejoin="round" stroke-linecap="round"/>
<path d="M944.5 87.5 Q949 85.5 954 87.5 M945.2 91.5 Q949 90 952.5 91.8 M946 96 L947.5 99.5" fill="none" stroke="#1E2746" stroke-width="1.1"/>
<path d="M945.8 36.6 Q947.25 40.949999999999996 951.5999999999999 42.4 Q947.25 43.85 945.8 48.199999999999996 Q944.3499999999999 43.85 940.0 42.4 Q944.3499999999999 40.949999999999996 945.8 36.6 Z M940.3 50.5 Q941.375 53.724999999999994 944.5999999999999 54.8 Q941.375 55.875 940.3 59.099999999999994 Q939.2249999999999 55.875 936.0 54.8 Q939.2249999999999 53.724999999999994 940.3 50.5 Z" fill="#fff" stroke="#F0B43A" stroke-width="1.5" stroke-linejoin="round"/>
</g>
<text x="90" y="688.5" font-size="12" font-weight="400" fill="#000" text-anchor="start" font-family="'Liberation Sans','Noto Sans CJK JP',sans-serif" textLength="428" lengthAdjust="spacing" >※多数回該当：年に４回以上高額療養費に該当する方の自己負担を更に軽減する仕組み</text>
<text x="100" y="702.6" font-size="12" font-weight="400" fill="#000" text-anchor="start" font-family="'Liberation Sans','Noto Sans CJK JP',sans-serif" textLength="657" lengthAdjust="spacing" >（例）年収約370万円～年収約770万円の者の自己負担限度額（現行）・年１～３回：80,100円＋１％　・年４回目以降：44,400円</text>
<text x="1043" y="732" font-size="12" font-weight="400" fill="#FFF6DA" text-anchor="middle" font-family="'Liberation Sans','Noto Sans CJK JP',sans-serif" >3</text>
</svg></body></html>
